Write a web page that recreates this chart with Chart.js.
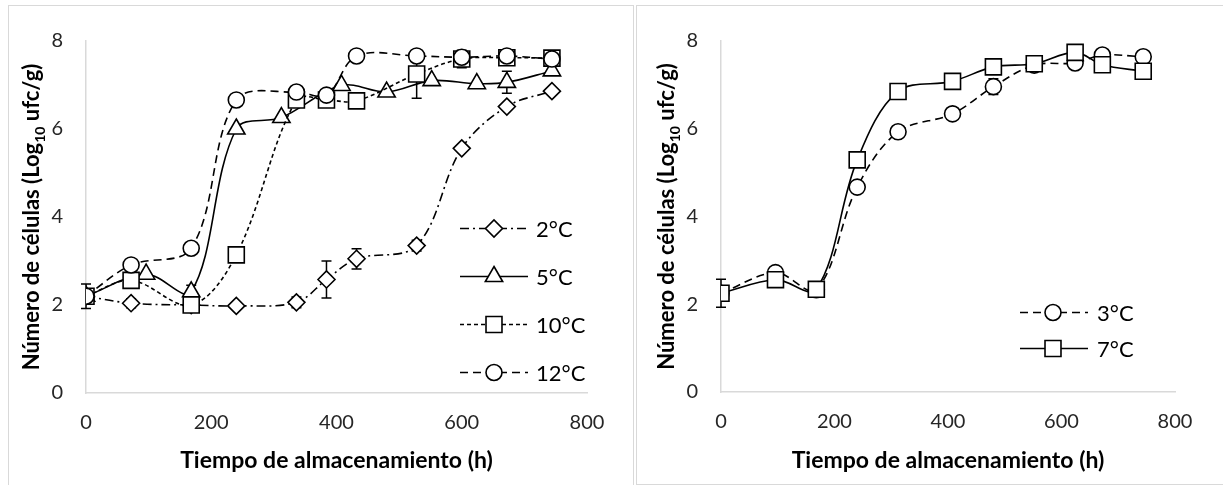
<!DOCTYPE html>
<html>
<head>
<meta charset="utf-8">
<script src="https://cdn.jsdelivr.net/npm/chart.js@4.4.1/dist/chart.umd.min.js"></script>
<style>
html,body{margin:0;padding:0;background:#fff;width:1223px;height:485px;overflow:hidden;}
.box{position:absolute;border:1.5px solid #d9d9d9;box-sizing:border-box;}
#b1{left:8px;top:5px;width:626px;height:495px;}
#b2{left:636px;top:5px;width:600px;height:480px;}
canvas{position:absolute;}
#c1{left:9px;top:6px;}
#c2{left:638px;top:6px;}
</style>
</head>
<body>
<div class="box" id="b1"></div>
<div class="box" id="b2"></div>
<canvas id="c1" width="623" height="479"></canvas>
<canvas id="c2" width="585" height="477"></canvas>
<script>
// ---------- data ----------
const xTickLabels = [0, 200, 400, 600, 800];
const yTickLabels = [0, 2, 4, 6, 8];

// left chart sampling times
const tA = [0, 72, 168, 240, 336, 384, 432, 528, 600, 672, 744];   // 2, 10, 12 °C
const tB = [0, 96, 168, 240, 312, 408, 480, 552, 624, 672, 744];   // 5 °C and right chart

const y2C  = [2.2, 2.04, 2.0, 1.98, 2.06, 2.58, 3.05, 3.35, 5.56, 6.51, 6.86];
const e2C  = [0, 0.1, 0, 0, 0.12, 0.42, 0.23, 0.12, 0, 0, 0];
const y5C  = [2.2, 2.7, 2.3, 6.0, 6.26, 6.99, 6.84, 7.1, 7.03, 7.06, 7.32];
const e5C  = [0, 0, 0.15, 0, 0, 0, 0, 0, 0, 0.25, 0];
const y10C = [2.2, 2.56, 2.0, 3.14, 6.66, 6.66, 6.64, 7.25, 7.59, 7.62, 7.61];
const e10C = [0.28, 0, 0, 0, 0, 0, 0, 0.55, 0.2, 0, 0];
const y12C = [2.2, 2.91, 3.29, 6.66, 6.84, 6.77, 7.66, 7.66, 7.63, 7.66, 7.59];
const e12C = [0, 0, 0, 0, 0, 0, 0, 0, 0.1, 0, 0];

// right chart
const y3C = [2.25, 2.72, 2.33, 4.67, 5.93, 6.34, 6.96, 7.45, 7.5, 7.68, 7.64];
const e3C = [0, 0, 0, 0, 0, 0, 0.18, 0, 0, 0, 0];
const y7C = [2.25, 2.56, 2.34, 5.29, 6.85, 7.08, 7.41, 7.48, 7.74, 7.46, 7.31];
const e7C = [0.32, 0, 0, 0, 0, 0, 0, 0, 0, 0, 0];

const xTitle = 'Tiempo de almacenamiento (h)';
const yTitleParts = ['Número de células (Log', '10', ' ufc/g)'];

// ---------- helpers ----------
const FONT = 'Lato';
const TICK_PX = 20, XTITLE_PX = 23, YTITLE_PX = 22, LEG_PX = 22;

function ds(label, xs, ys, errs, style, radius, dash, order) {
  return {
    label, order,
    data: xs.map((x, i) => ({x, y: ys[i]})),
    errors: errs,
    borderColor: '#000', borderWidth: 1.6, borderDash: dash,
    pointStyle: style, pointRadius: radius, pointHoverRadius: radius,
    pointBackgroundColor: '#fff', pointBorderColor: '#000', pointBorderWidth: 1.6,
    tension: 0.35, fill: false
  };
}

function marker(ctx, style, r, x, y) {
  ctx.beginPath();
  if (style === 'circle') ctx.arc(x, y, r, 0, Math.PI * 2);
  else if (style === 'rect') { const s = Math.SQRT1_2 * r; ctx.rect(x - s, y - s, 2 * s, 2 * s); }
  else if (style === 'triangle') {
    let a = 0;
    ctx.moveTo(x + Math.sin(a) * r, y - Math.cos(a) * r);
    a += 2 * Math.PI / 3; ctx.lineTo(x + Math.sin(a) * r, y - Math.cos(a) * r);
    a += 2 * Math.PI / 3; ctx.lineTo(x + Math.sin(a) * r, y - Math.cos(a) * r);
    ctx.closePath();
  } else if (style === 'rectRot') {
    ctx.moveTo(x - r, y); ctx.lineTo(x, y - r); ctx.lineTo(x + r, y); ctx.lineTo(x, y + r); ctx.closePath();
  }
  ctx.fillStyle = '#fff'; ctx.fill();
  ctx.strokeStyle = '#000'; ctx.lineWidth = 1.6; ctx.stroke();
}

const errorBars = {
  id: 'errorBars',
  beforeDatasetsDraw(chart) {
    const ctx = chart.ctx, xs = chart.scales.x, ys = chart.scales.y;
    ctx.save();
    ctx.strokeStyle = '#000'; ctx.lineWidth = 1.5; ctx.setLineDash([]);
    chart.data.datasets.forEach(d => {
      d.data.forEach((p, i) => {
        const e = d.errors[i];
        if (!e) return;
        const x = xs.getPixelForValue(p.x);
        const y1 = ys.getPixelForValue(p.y + e), y2 = ys.getPixelForValue(p.y - e);
        ctx.beginPath();
        ctx.moveTo(x, y1); ctx.lineTo(x, y2);
        ctx.moveTo(x - 5, y1); ctx.lineTo(x + 5, y1);
        ctx.moveTo(x - 5, y2); ctx.lineTo(x + 5, y2);
        ctx.stroke();
      });
    });
    ctx.restore();
  }
};

const decor = {
  id: 'decor',
  afterDraw(chart, args, o) {
    const ctx = chart.ctx, ca = chart.chartArea;
    ctx.save();
    // x axis title
    ctx.fillStyle = '#000';
    ctx.font = `bold ${XTITLE_PX}px ${FONT}`;
    ctx.textAlign = 'center'; ctx.textBaseline = 'alphabetic';
    ctx.fillText(xTitle, (ca.left + ca.right) / 2, o.xTitleBase);
    // y axis title with subscript
    const fMain = `bold ${YTITLE_PX}px ${FONT}`, fSub = `bold ${Math.round(YTITLE_PX * 0.65)}px ${FONT}`;
    ctx.font = fMain; const w1 = ctx.measureText(yTitleParts[0]).width, w3 = ctx.measureText(yTitleParts[2]).width;
    ctx.font = fSub; const w2 = ctx.measureText(yTitleParts[1]).width;
    const tot = w1 + w2 + w3;
    ctx.translate(o.yTitleBase, (ca.top + ca.bottom) / 2);
    ctx.rotate(-Math.PI / 2);
    ctx.textAlign = 'left';
    let x = -tot / 2;
    ctx.font = fMain; ctx.fillText(yTitleParts[0], x, 0); x += w1;
    ctx.font = fSub; ctx.fillText(yTitleParts[1], x, YTITLE_PX * 0.28); x += w2;
    ctx.font = fMain; ctx.fillText(yTitleParts[2], x, 0);
    ctx.restore();
    // legend
    ctx.save();
    o.legend.order.forEach((di, k) => {
      const d = chart.data.datasets[di];
      const base = o.legend.base + k * o.legend.step;
      const ly = base - o.legend.lineOff;
      ctx.strokeStyle = '#000'; ctx.lineWidth = 1.6; ctx.setLineDash(d.borderDash || []);
      ctx.beginPath(); ctx.moveTo(o.legend.x0, ly); ctx.lineTo(o.legend.x1, ly); ctx.stroke();
      ctx.setLineDash([]);
      marker(ctx, d.pointStyle, d.pointRadius, o.legend.xm, ly);
      ctx.fillStyle = '#000'; ctx.font = `${LEG_PX}px ${FONT}`;
      ctx.textAlign = 'left'; ctx.textBaseline = 'alphabetic';
      ctx.fillText(d.label, o.legend.xt, base);
    });
    ctx.restore();
  }
};

function scales(H, bottom, left) {
  const tickFont = {family: FONT, size: TICK_PX};
  return {
    x: {
      type: 'linear', min: 0, max: 800,
      afterBuildTicks: s => { s.ticks = xTickLabels.map(v => ({value: v})); },
      ticks: {font: tickFont, color: '#262626', padding: 18, maxRotation: 0},
      grid: {display: false, drawTicks: false},
      border: {display: true, color: '#d9d9d9', width: 1.5},
      afterFit: s => { s.height = H - bottom; }
    },
    y: {
      type: 'linear', min: 0, max: 8,
      afterBuildTicks: s => { s.ticks = yTickLabels.map(v => ({value: v})); },
      ticks: {font: tickFont, color: '#262626', padding: 23},
      grid: {display: false, drawTicks: false},
      border: {display: true, color: '#d9d9d9', width: 1.5},
      afterFit: s => { s.width = left; }
    }
  };
}

function make(id, W, H, datasets, left, rightEdge, bottom, opts) {
  return new Chart(document.getElementById(id), {
    type: 'line',
    data: {datasets},
    options: {
      responsive: false, animation: false, devicePixelRatio: 1,
      layout: {padding: {left: 0, top: 23, right: W - rightEdge, bottom: 0}},
      scales: scales(H, bottom, left),
      plugins: {legend: {display: false}, tooltip: {enabled: false}, decor: opts}
    },
    plugins: [errorBars, decor]
  });
}

Chart.defaults.font.family = FONT;

make('c1', 623, 479, [
  ds('12°C', tA, y12C, e12C, 'circle', 8, [8, 5], 0),
  ds('10°C', tA, y10C, e10C, 'rect', 11.3, [4, 3], 1),
  ds('5°C', tB, y5C, e5C, 'triangle', 10, [], 2),
  ds('2°C', tA, y2C, e2C, 'rectRot', 8.5, [9, 4, 2, 4], 3)
], 77, 578, 387, {
  xTitleBase: 462, yTitleBase: 30,
  legend: {order: [3, 2, 1, 0], base: 231, step: 48, lineOff: 8.5, x0: 451, x1: 519, xm: 485, xt: 527}
});

make('c2', 585, 477, [
  ds('7°C', tB, y7C, e7C, 'rect', 11.3, [], 0),
  ds('3°C', tB, y3C, e3C, 'circle', 8, [8, 5], 1)
], 83, 537, 386, {
  xTitleBase: 462, yTitleBase: 36,
  legend: {order: [1, 0], base: 315, step: 36, lineOff: 8.5, x0: 382, x1: 450, xm: 415, xt: 459}
});
</script>
</body>
</html>
